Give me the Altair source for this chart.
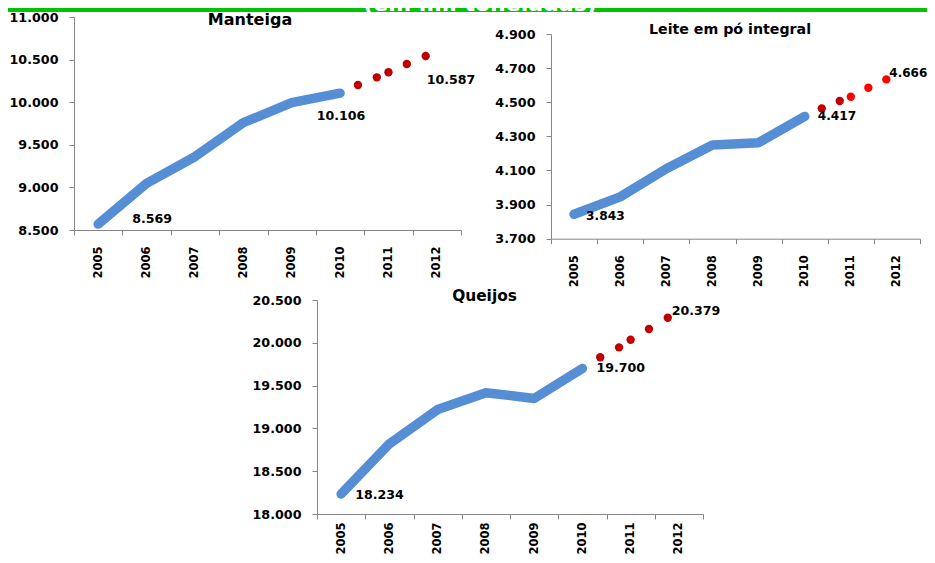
import altair as alt
import pandas as pd

# ---------------- data ----------------
HIST_YEARS = [2005, 2006, 2007, 2008, 2009, 2010]
PROJ_POS = [2010.37, 2010.76, 2011.0, 2011.38, 2011.77]
YEAR_EDGES = [2004.5, 2005.5, 2006.5, 2007.5, 2008.5, 2009.5, 2010.5, 2011.5, 2012.5]

MANTEIGA_HIST = [8569, 9048, 9360, 9759, 9994, 10106]
MANTEIGA_PROJ = [10202, 10292, 10351, 10448, 10542]
MANTEIGA_TICKS = [8500, 9000, 9500, 10000, 10500, 11000]
MANTEIGA_LABELS = ["8.569", "10.106", "10.587"]

LEITE_HIST = [3843, 3945, 4110, 4249, 4263, 4417]
LEITE_PROJ = [4464, 4507, 4532, 4585, 4634]
LEITE_TICKS = [3700, 3900, 4100, 4300, 4500, 4700, 4900]
LEITE_LABELS = ["3.843", "4.417", "4.666"]

QUEIJOS_HIST = [18234, 18820, 19220, 19417, 19350, 19700]
QUEIJOS_PROJ = [19831, 19947, 20036, 20161, 20293]
QUEIJOS_TICKS = [18000, 18500, 19000, 19500, 20000, 20500]
QUEIJOS_LABELS = ["18.234", "19.700", "20.379"]

TITLES = ["Manteiga", "Leite em pó integral", "Queijos"]
BANNER = "(em mil toneladas)"

BLUE = "#558ED5"
DARK_RED = "#C00000"
RED = "#FF0000"
GREEN = "#00C400"
AXIS_GRAY = "#868686"
FONT = "DejaVu Sans"

MANTEIGA_COLORS = [DARK_RED] * 5
LEITE_COLORS = [DARK_RED, DARK_RED, RED, RED, RED]
QUEIJOS_COLORS = [DARK_RED] * 5

W, H = 919, 547


def panel(hist, proj, proj_colors, ticks, labels, xrange, yrange, label_style,
          year_pad=11):
    xs = alt.Scale(domain=[YEAR_EDGES[0], YEAR_EDGES[-1]], range=xrange,
                   nice=False, zero=False)
    ys = alt.Scale(domain=[ticks[0], ticks[-1]], range=yrange,
                   nice=False, zero=False)
    band = (xrange[1] - xrange[0]) / 8.0
    xaxis = alt.Axis(
        orient="bottom", offset=yrange[0] - H,
        values=YEAR_EDGES,
        labelExpr="datum.value < 2012 ? format(datum.value + 0.5, 'd') : ''",
        labelAngle=270, labelAlign="right", labelBaseline="middle",
        labelOffset=band / 2.0, labelFontSize=11.5, labelPadding=year_pad,
        labelFlush=False, labelOverlap=False, tickSize=5, grid=False,
        title=None,
    )
    yaxis = alt.Axis(
        orient="left", offset=-xrange[0],
        values=ticks,
        labelExpr="replace(format(datum.value, ',d'), ',', '.')",
        labelFontSize=12.7, labelPadding=11, labelFlush=False,
        labelOverlap=False, tickSize=5, grid=False, title=None,
    )
    hist_df = pd.DataFrame({"x": HIST_YEARS, "y": hist})
    proj_df = pd.DataFrame({"x": PROJ_POS, "y": proj, "c": proj_colors})

    line = alt.Chart(hist_df).mark_line(
        color=BLUE, strokeWidth=9.5, strokeCap="round", strokeJoin="round"
    ).encode(
        x=alt.X("x:Q", scale=xs, axis=xaxis),
        y=alt.Y("y:Q", scale=ys, axis=yaxis),
    )
    dots = alt.Chart(proj_df).mark_circle(size=70, opacity=1).encode(
        x="x:Q", y="y:Q", color=alt.Color("c:N", scale=None)
    )
    anchors = [(HIST_YEARS[0], hist[0]), (HIST_YEARS[-1], hist[-1]),
               (PROJ_POS[-1], proj[-1])]
    label_layers = []
    for (ax, ay), txt, (dx, dy, al, fs) in zip(anchors, labels, label_style):
        label_layers.append(
            alt.Chart(pd.DataFrame({"x": [ax], "y": [ay], "t": [txt]})).mark_text(
                font=FONT, fontSize=fs, fontWeight="bold", color="black",
                align=al, baseline="middle", dx=dx, dy=dy
            ).encode(x="x:Q", y="y:Q", text="t:N")
        )
    return alt.layer(line, dots, *label_layers)


def text_block(txt, x, y, size, color="black", baseline="middle"):
    return alt.Chart(pd.DataFrame({"t": [txt]})).mark_text(
        font=FONT, fontSize=size, fontWeight="bold", color=color,
        align="center", baseline=baseline
    ).encode(x=alt.value(x), y=alt.value(y), text="t:N")


p1 = panel(MANTEIGA_HIST, MANTEIGA_PROJ, MANTEIGA_COLORS, MANTEIGA_TICKS,
           MANTEIGA_LABELS, [66, 453], [222, 9],
           [(34, -5, "left", 12.6), (1, 23, "center", 12.6), (1, 24, "left", 12.6)])
p2 = panel(LEITE_HIST, LEITE_PROJ, LEITE_COLORS, LEITE_TICKS,
           LEITE_LABELS, [543, 912], [230.7, 26],
           [(12, 2, "left", 12.2), (13, 0, "left", 12.2), (3, -6, "left", 12)])
p3 = panel(QUEIJOS_HIST, QUEIJOS_PROJ, QUEIJOS_COLORS, QUEIJOS_TICKS,
           QUEIJOS_LABELS, [309, 695], [506, 292],
           [(14, 1, "left", 12.6), (14, 0, "left", 12.6), (4, -7, "left", 12.6)],
           year_pad=3)

banner_rect = alt.Chart(pd.DataFrame({"b": [0]})).mark_rect(
    color=GREEN, opacity=1
).encode(x=alt.value(0), x2=alt.value(W), y=alt.value(0), y2=alt.value(4))
banner_text = text_block(BANNER, 472, 3, 22, color="white", baseline="alphabetic")

t1 = text_block(TITLES[0], 242, 12, 16)
t2 = text_block(TITLES[1], 722, 22, 14.2)
t3 = text_block(TITLES[2], 476.5, 288, 15.4)

chart = alt.layer(
    banner_rect, banner_text, p1, p2, p3, t1, t2, t3
).resolve_scale(
    x="independent", y="independent"
).resolve_axis(
    x="independent", y="independent"
).properties(
    width=W, height=H, padding=0, background="white",
    autosize=alt.AutoSizeParams(type="none"),
).configure_view(strokeWidth=0).configure_axis(
    domainColor=AXIS_GRAY, tickColor=AXIS_GRAY, domainWidth=1, tickWidth=1,
    labelFont=FONT, labelFontWeight="bold", labelColor="black",
)

chart.save("out.html", embed_options={"renderer": "svg", "actions": False})
